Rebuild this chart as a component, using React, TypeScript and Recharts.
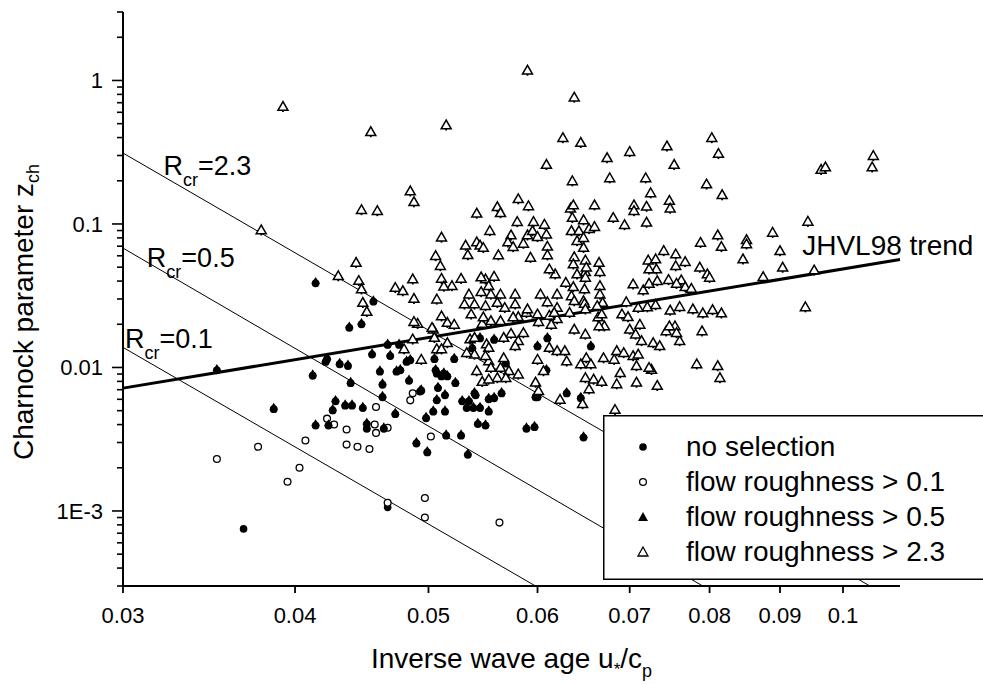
import React from 'react';
import {
  ScatterChart,
  Scatter,
  XAxis,
  YAxis,
  ReferenceLine,
  ReferenceDot,
  Legend,
  Label,
} from 'recharts';

const FONT = '"Liberation Sans", Arial, Helvetica, sans-serif';

// ---------- axes ----------
const xDomain = [0.03, 0.11];
const yDomain = [0.0003, 3];
const xTicks = [0.03, 0.04, 0.05, 0.06, 0.07, 0.08, 0.09, 0.1];
const xTickLabels = ['0.03', '0.04', '0.05', '0.06', '0.07', '0.08', '0.09', '0.1'];
const yMajorTicks = [0.001, 0.01, 0.1, 1];
const yMajorLabels = ['1E-3', '0.01', '0.1', '1'];
const yMinorTicks = [
  0.0003, 0.0004, 0.0005, 0.0006, 0.0007, 0.0008, 0.0009,
  0.002, 0.003, 0.004, 0.005, 0.006, 0.007, 0.008, 0.009,
  0.02, 0.03, 0.04, 0.05, 0.06, 0.07, 0.08, 0.09,
  0.2, 0.3, 0.4, 0.5, 0.6, 0.7, 0.8, 0.9,
  2, 3,
];

// ---------- lines ----------
const rcr23Line = [[0.03, 0.312], [0.1046, 0.0003]];
const rcr05Line = [[0.03, 0.0679], [0.0791, 0.0003]];
const rcr01Line = [[0.03, 0.0138], [0.0598, 0.0003]];
const jhvlTrend = [[0.03, 0.00718], [0.11, 0.0565]];

// ---------- annotations (data coordinates) ----------
const rLabels = [
  { x: 0.0321, y: 0.218, value: '2.3' },
  { x: 0.03122, y: 0.0504, value: '0.5' },
  { x: 0.0301, y: 0.0137, value: '0.1' },
];
const trendLabel = { x: 0.0934, y: 0.0612, text: 'JHVL98 trend' };

// ---------- series ----------
const seriesNames = ['no selection', 'flow roughness > 0.1', 'flow roughness > 0.5', 'flow roughness > 2.3'];

const noSelection = [
  [0.0367, 0.00075], [0.0467, 0.00106],
];

const rough01 = [
  [0.0351, 0.0023], [0.0376, 0.0028], [0.0395, 0.0016], [0.0403, 0.002], [0.0407, 0.0031],
  [0.0422, 0.0044], [0.0427, 0.004], [0.0436, 0.0037], [0.0436, 0.0029], [0.0444, 0.0028],
  [0.0453, 0.0027], [0.0458, 0.0053], [0.0457, 0.004], [0.0458, 0.0035], [0.0467, 0.0038],
  [0.0485, 0.0059], [0.0487, 0.0066], [0.0467, 0.00114], [0.0497, 0.00123], [0.0497, 0.0009],
  [0.0502, 0.0033], [0.0563, 0.00083],
];

const rough05 = [
  [0.0414, 0.0392], [0.0456, 0.0292], [0.0438, 0.0192], [0.0447, 0.0203], [0.0351, 0.0097],
  [0.0412, 0.0089], [0.0421, 0.0111], [0.0422, 0.0116], [0.0431, 0.0107], [0.0437, 0.0104],
  [0.0455, 0.0125], [0.0439, 0.0079], [0.0461, 0.0095], [0.0469, 0.0122], [0.0467, 0.0146],
  [0.0476, 0.0146], [0.0474, 0.0095], [0.0477, 0.0097], [0.0482, 0.0111], [0.0485, 0.0114],
  [0.0484, 0.0082], [0.0493, 0.0069], [0.0463, 0.0077], [0.0463, 0.0063], [0.0428, 0.0059],
  [0.0426, 0.0051], [0.0435, 0.0055], [0.044, 0.0055], [0.0448, 0.0053], [0.0386, 0.0052],
  [0.0414, 0.004], [0.0423, 0.004], [0.0451, 0.0041], [0.0451, 0.0038], [0.0464, 0.0038],
  [0.0473, 0.0048], [0.049, 0.003], [0.0498, 0.0045], [0.0499, 0.0026], [0.0515, 0.0034],
  [0.0528, 0.0034], [0.0534, 0.0025], [0.0494, 0.007], [0.0508, 0.0073], [0.0507, 0.006],
  [0.0514, 0.0065], [0.0523, 0.0079], [0.0529, 0.0059], [0.0535, 0.0059], [0.0533, 0.0053],
  [0.0539, 0.0053], [0.0545, 0.0053], [0.0541, 0.0065], [0.0553, 0.005], [0.0553, 0.0061],
  [0.0558, 0.0062], [0.0565, 0.0067], [0.0543, 0.0041], [0.055, 0.004], [0.0589, 0.0038],
  [0.0597, 0.0039], [0.0648, 0.0033], [0.06, 0.0063], [0.0598, 0.0063], [0.063, 0.0067],
  [0.0609, 0.0097], [0.06, 0.0142], [0.0545, 0.0162], [0.0558, 0.0158], [0.0538, 0.0138],
  [0.0522, 0.0116], [0.0505, 0.0116], [0.0507, 0.0092], [0.0513, 0.0092], [0.0511, 0.0088],
  [0.0516, 0.0088], [0.0656, 0.0142], [0.0645, 0.0062], [0.061, 0.0162], [0.0569, 0.0108],
  [0.054, 0.0067], [0.0504, 0.005], [0.0514, 0.005], [0.0506, 0.0097],
];

const rough23 = [
  [0.059, 1.18], [0.0638, 0.766], [0.0454, 0.44], [0.0515, 0.49], [0.0392, 0.66],
  [0.0626, 0.4], [0.0645, 0.37], [0.0803, 0.4], [0.0812, 0.31], [0.0745, 0.35],
  [0.07, 0.32], [0.0674, 0.29], [0.0609, 0.26], [0.0754, 0.26], [0.0636, 0.2],
  [0.0677, 0.21], [0.0719, 0.21], [0.0964, 0.24], [0.0971, 0.25], [0.1052, 0.3],
  [0.105, 0.25], [0.0796, 0.19], [0.0817, 0.16], [0.0725, 0.165], [0.0748, 0.146],
  [0.0749, 0.129], [0.0485, 0.17], [0.0488, 0.143], [0.0447, 0.126], [0.0459, 0.124],
  [0.0581, 0.15], [0.0591, 0.134], [0.0542, 0.119], [0.0561, 0.132], [0.0564, 0.12],
  [0.0634, 0.129], [0.0637, 0.136], [0.066, 0.136], [0.0705, 0.136], [0.0705, 0.124],
  [0.072, 0.133], [0.072, 0.103], [0.0681, 0.111], [0.0694, 0.099], [0.0636, 0.111],
  [0.0648, 0.107], [0.0654, 0.093], [0.066, 0.096], [0.058, 0.104], [0.0596, 0.104],
  [0.0607, 0.0995], [0.0554, 0.09], [0.0574, 0.0839], [0.0571, 0.075], [0.0576, 0.0696],
  [0.059, 0.0839], [0.0595, 0.0899], [0.06, 0.0818], [0.0609, 0.085], [0.0586, 0.0734],
  [0.061, 0.07], [0.061, 0.061], [0.0511, 0.081], [0.0532, 0.0712], [0.0542, 0.075],
  [0.0545, 0.0712], [0.0548, 0.0686], [0.0534, 0.0611], [0.0506, 0.0602], [0.051, 0.0513],
  [0.0443, 0.054], [0.043, 0.0436], [0.0445, 0.0404], [0.0447, 0.0353], [0.0448, 0.0284],
  [0.0451, 0.0246], [0.0487, 0.0414], [0.0473, 0.0361], [0.0479, 0.0343], [0.0488, 0.0303],
  [0.0511, 0.0418], [0.052, 0.0372], [0.0513, 0.0369], [0.0528, 0.0418], [0.0507, 0.03],
  [0.0535, 0.0325], [0.0546, 0.0338], [0.0531, 0.0277], [0.054, 0.0277], [0.055, 0.0414],
  [0.0558, 0.0432], [0.0546, 0.0428], [0.0553, 0.0372], [0.0555, 0.0325], [0.0564, 0.0325],
  [0.0578, 0.0325], [0.0568, 0.0262], [0.0578, 0.0277], [0.0603, 0.0325], [0.061, 0.0287],
  [0.062, 0.0325], [0.0629, 0.0392], [0.0637, 0.0366], [0.0635, 0.0316], [0.0638, 0.0292],
  [0.0648, 0.0292], [0.0618, 0.0449], [0.0641, 0.0449], [0.065, 0.0465], [0.065, 0.0425],
  [0.0649, 0.0353], [0.0649, 0.028], [0.0666, 0.0372], [0.0666, 0.0325], [0.0669, 0.0284],
  [0.0665, 0.054], [0.0666, 0.0465], [0.065, 0.0561], [0.0651, 0.05], [0.0638, 0.0591],
  [0.0637, 0.0527], [0.0648, 0.0687], [0.0641, 0.0766], [0.0635, 0.0899], [0.0643, 0.0899],
  [0.0648, 0.0805], [0.0704, 0.0382], [0.0716, 0.0347], [0.0723, 0.0386], [0.0696, 0.0287],
  [0.0691, 0.0236], [0.0698, 0.0226], [0.0722, 0.0561], [0.0731, 0.0571], [0.0732, 0.0486],
  [0.0723, 0.0486], [0.0756, 0.0618], [0.0768, 0.0547], [0.0756, 0.0512], [0.0741, 0.0653],
  [0.0733, 0.0403], [0.0747, 0.041], [0.0763, 0.0408], [0.0768, 0.0366], [0.0776, 0.0356],
  [0.0757, 0.0386], [0.0788, 0.0745], [0.0811, 0.0839], [0.0816, 0.0697], [0.0851, 0.0778],
  [0.0851, 0.0727], [0.0889, 0.0875], [0.09, 0.0652], [0.0943, 0.1044], [0.0787, 0.05],
  [0.0797, 0.0449], [0.08, 0.0425], [0.0846, 0.0571], [0.0904, 0.05], [0.0875, 0.043],
  [0.0953, 0.0478], [0.0939, 0.0265], [0.079, 0.018], [0.0778, 0.0256], [0.0791, 0.024],
  [0.0804, 0.0253], [0.0816, 0.024], [0.0761, 0.0266], [0.0749, 0.0251], [0.0721, 0.0265],
  [0.0731, 0.0274], [0.0744, 0.018], [0.0755, 0.0195], [0.0748, 0.0195], [0.07, 0.0185],
  [0.0707, 0.0171], [0.0638, 0.0185], [0.0664, 0.0225], [0.0668, 0.0236], [0.0671, 0.0195],
  [0.0665, 0.0195], [0.065, 0.0171], [0.062, 0.0219], [0.0612, 0.0231], [0.0601, 0.0209],
  [0.0614, 0.02], [0.0589, 0.0242], [0.0581, 0.0226], [0.0576, 0.0225], [0.0574, 0.0173],
  [0.0586, 0.0175], [0.0555, 0.0212], [0.0547, 0.0203], [0.0516, 0.0206], [0.0522, 0.02],
  [0.0504, 0.0185], [0.0491, 0.0203], [0.0488, 0.0209], [0.0511, 0.0229], [0.0593, 0.0586],
  [0.0612, 0.0486], [0.0562, 0.061], [0.055, 0.027], [0.0561, 0.0284], [0.059, 0.0256],
  [0.062, 0.0262], [0.065, 0.0256], [0.0537, 0.0236], [0.0548, 0.0225], [0.06, 0.0236],
  [0.0617, 0.0242], [0.0633, 0.0242], [0.0663, 0.027], [0.071, 0.0262], [0.0564, 0.0212],
  [0.0712, 0.02], [0.0516, 0.0149], [0.0536, 0.0158], [0.054, 0.0162], [0.0551, 0.0146],
  [0.0553, 0.0138], [0.0567, 0.0162], [0.0581, 0.0154], [0.0578, 0.0142], [0.0612, 0.0138],
  [0.062, 0.0131], [0.0628, 0.0131], [0.063, 0.0111], [0.06, 0.0114], [0.0567, 0.0117],
  [0.0553, 0.0111], [0.0564, 0.01], [0.0572, 0.0095], [0.0581, 0.009], [0.0542, 0.0095],
  [0.0547, 0.008], [0.0561, 0.0085], [0.0569, 0.0085], [0.0598, 0.0079], [0.0606, 0.0095],
  [0.0623, 0.006], [0.0601, 0.0069], [0.0651, 0.0117], [0.0645, 0.0106], [0.0656, 0.0106],
  [0.065, 0.0085], [0.0659, 0.0083], [0.0668, 0.008], [0.0654, 0.0071], [0.0647, 0.0056],
  [0.067, 0.0117], [0.0682, 0.0114], [0.0685, 0.0131], [0.0693, 0.0127], [0.0704, 0.0121],
  [0.071, 0.0124], [0.0714, 0.0154], [0.0728, 0.0149], [0.0736, 0.0142], [0.0761, 0.0154],
  [0.0783, 0.0106], [0.0726, 0.0097], [0.0708, 0.0103], [0.0689, 0.0092], [0.0685, 0.0077],
  [0.0708, 0.0079], [0.0733, 0.0075], [0.0683, 0.0051], [0.054, 0.0124], [0.055, 0.0121],
  [0.0811, 0.0103], [0.0814, 0.0085], [0.0723, 0.01], [0.0757, 0.0175], [0.0487, 0.0158],
  [0.048, 0.0135], [0.0494, 0.0114], [0.0505, 0.0162], [0.0507, 0.0135], [0.0511, 0.0135],
  [0.0533, 0.0127], [0.0553, 0.0083], [0.0555, 0.01], [0.0378, 0.091], [0.0503, 0.019],
];

const toPoints = (arr: number[][]) => arr.map(([x, y]) => ({ x, y }));
const segment = (arr: number[][]) => arr.map(([x, y]) => ({ x, y }));

// ---------- marker shapes ----------
const FilledCircle = (p: any) => <circle cx={p.cx} cy={p.cy} r={3.8} fill="#000" />;
const OpenCircle = (p: any) => (
  <circle cx={p.cx} cy={p.cy} r={3.4} fill="#fff" stroke="#000" strokeWidth={1.3} />
);
const Bell = (p: any) => {
  const { cx, cy } = p;
  return (
    <g>
      <circle cx={cx} cy={cy + 1} r={3.9} fill="#000" />
      <path d={`M${cx},${cy - 5.4}L${cx - 4.3},${cy + 1.5}L${cx + 4.3},${cy + 1.5}Z`} fill="#000" />
    </g>
  );
};
const OpenTri = (p: any) => {
  const { cx, cy } = p;
  return (
    <g>
      <rect x={cx - 0.9} y={cy + 3.6} width={1.8} height={2} fill="#000" />
      <path
        d={`M${cx},${cy - 4.8}L${cx - 5},${cy + 3.9}L${cx + 5},${cy + 3.9}Z`}
        fill="#fff"
        stroke="#000"
        strokeWidth={1.5}
      />
    </g>
  );
};

// ---------- ticks ----------
const allYTicks = [...yMinorTicks, ...yMajorTicks].sort((a, b) => a - b);

const YTick = (props: any) => {
  const { x, y, payload } = props;
  const i = yMajorTicks.findIndex((v) => Math.abs(v - payload.value) / v < 1e-6);
  const major = i >= 0;
  return (
    <g>
      <line x1={x - (major ? 11 : 6)} x2={x} y1={y} y2={y} stroke="#000" strokeWidth={1.6} />
      {major && (
        <text x={x - 20} y={y} dy="0.36em" textAnchor="end" fontSize={22} fontFamily={FONT} fill="#000">
          {yMajorLabels[i]}
        </text>
      )}
    </g>
  );
};

const xTickFormatter = (v: number) => {
  const i = xTicks.findIndex((t) => Math.abs(t - v) / t < 1e-6);
  return i >= 0 ? xTickLabels[i] : '';
};

// ---------- labels ----------
const XTitle = (props: any) => {
  const vb = props.viewBox;
  const cx = vb.x + vb.width / 2;
  const by = vb.y + 82;
  return (
    <text x={cx} y={by} textAnchor="middle" fontSize={28} fontFamily={FONT} fill="#000">
      Inverse wave age u
      <tspan fontSize={17} dy={7}>*</tspan>
      <tspan dy={-7}>/c</tspan>
      <tspan fontSize={18} dy={9}>p</tspan>
    </text>
  );
};

const YTitle = (props: any) => {
  const vb = props.viewBox;
  const cy = vb.y + vb.height / 2 + 13;
  const bx = 33;
  return (
    <text
      x={bx}
      y={cy}
      transform={`rotate(-90, ${bx}, ${cy})`}
      textAnchor="middle"
      fontSize={28}
      fontFamily={FONT}
      fill="#000"
    >
      Charnock parameter z
      <tspan fontSize={18} dy={6}>ch</tspan>
    </text>
  );
};

const rLabelContent = (value: string) => (props: any) => {
  const { x, y } = props.viewBox;
  return (
    <text x={x} y={y} fontSize={27} fontFamily={FONT} fill="#000">
      R<tspan fontSize={18} dy={11}>cr</tspan>
      <tspan dy={-11}>={value}</tspan>
    </text>
  );
};

const trendLabelContent = (props: any) => {
  const { x, y } = props.viewBox;
  return (
    <text x={x} y={y} fontSize={28} fontFamily={FONT} fill="#000">
      {trendLabel.text}
    </text>
  );
};

// ---------- legend ----------
const LegendBox = () => {
  const symbols = [
    (cx: number, cy: number) => <FilledCircle cx={cx} cy={cy} />,
    (cx: number, cy: number) => <OpenCircle cx={cx} cy={cy} />,
    (cx: number, cy: number) => (
      <path d={`M${cx},${cy - 5}L${cx - 5},${cy + 4}L${cx + 5},${cy + 4}Z`} fill="#000" />
    ),
    (cx: number, cy: number) => (
      <path
        d={`M${cx},${cy - 5}L${cx - 5},${cy + 4}L${cx + 5},${cy + 4}Z`}
        fill="#fff"
        stroke="#000"
        strokeWidth={1.3}
      />
    ),
  ];
  return (
    <svg width={380} height={165} style={{ display: 'block' }}>
      <rect x={0.75} y={0.75} width={400} height={163.5} fill="#fff" stroke="#000" strokeWidth={1.5} />
      {seriesNames.map((name, i) => (
        <g key={name}>
          {symbols[i](40, 32 + 35 * i)}
          <text x={83} y={41 + 35 * i} fontSize={28} fontFamily={FONT} fill="#000">
            {name}
          </text>
        </g>
      ))}
    </svg>
  );
};

export default function App() {
  return (
    <div style={{ position: 'absolute', left: 0, top: 0, width: 983, height: 684, overflow: 'hidden', background: '#fff' }}>
      <ScatterChart width={983} height={684} margin={{ top: 12, right: 83, bottom: 0, left: 0 }}>
        <XAxis
          type="number"
          dataKey="x"
          scale="log"
          domain={xDomain}
          allowDataOverflow
          ticks={xTicks}
          interval={0}
          tickFormatter={xTickFormatter}
          height={98}
          tickSize={7}
          tickMargin={14}
          axisLine={{ stroke: '#000', strokeWidth: 2 }}
          tickLine={{ stroke: '#000', strokeWidth: 1.8 }}
          tick={{ fontSize: 22, fill: '#000', fontFamily: FONT }}
        >
          <Label content={XTitle} />
        </XAxis>
        <YAxis
          type="number"
          dataKey="y"
          scale="log"
          domain={yDomain}
          allowDataOverflow
          ticks={allYTicks}
          interval={0}
          width={123}
          tickSize={0}
          tickMargin={0}
          tickLine={false}
          axisLine={{ stroke: '#000', strokeWidth: 2 }}
          tick={<YTick />}
        >
          <Label content={YTitle} />
        </YAxis>

        <Scatter name={seriesNames[0]} data={toPoints(noSelection)} shape={FilledCircle} isAnimationActive={false} />
        <Scatter name={seriesNames[1]} data={toPoints(rough01)} shape={OpenCircle} isAnimationActive={false} />
        <Scatter name={seriesNames[2]} data={toPoints(rough05)} shape={Bell} isAnimationActive={false} />
        <Scatter name={seriesNames[3]} data={toPoints(rough23)} shape={OpenTri} isAnimationActive={false} />

        <ReferenceLine segment={segment(rcr23Line)} stroke="#000" strokeWidth={1} ifOverflow="visible" />
        <ReferenceLine segment={segment(rcr05Line)} stroke="#000" strokeWidth={1} ifOverflow="visible" />
        <ReferenceLine segment={segment(rcr01Line)} stroke="#000" strokeWidth={1} ifOverflow="visible" />
        <ReferenceLine segment={segment(jhvlTrend)} stroke="#000" strokeWidth={3} ifOverflow="visible" />

        {rLabels.map((l) => (
          <ReferenceDot
            key={l.value}
            x={l.x}
            y={l.y}
            r={0}
            fill="none"
            stroke="none"
            ifOverflow="visible"
            label={rLabelContent(l.value)}
          />
        ))}
        <ReferenceDot
          x={trendLabel.x}
          y={trendLabel.y}
          r={0}
          fill="none"
          stroke="none"
          ifOverflow="visible"
          label={trendLabelContent}
        />

        <Legend
          layout="vertical"
          align="center"
          verticalAlign="middle"
          wrapperStyle={{ left: 603, top: 415, width: 380, height: 165 }}
          content={() => <LegendBox />}
        />
      </ScatterChart>
    </div>
  );
}
